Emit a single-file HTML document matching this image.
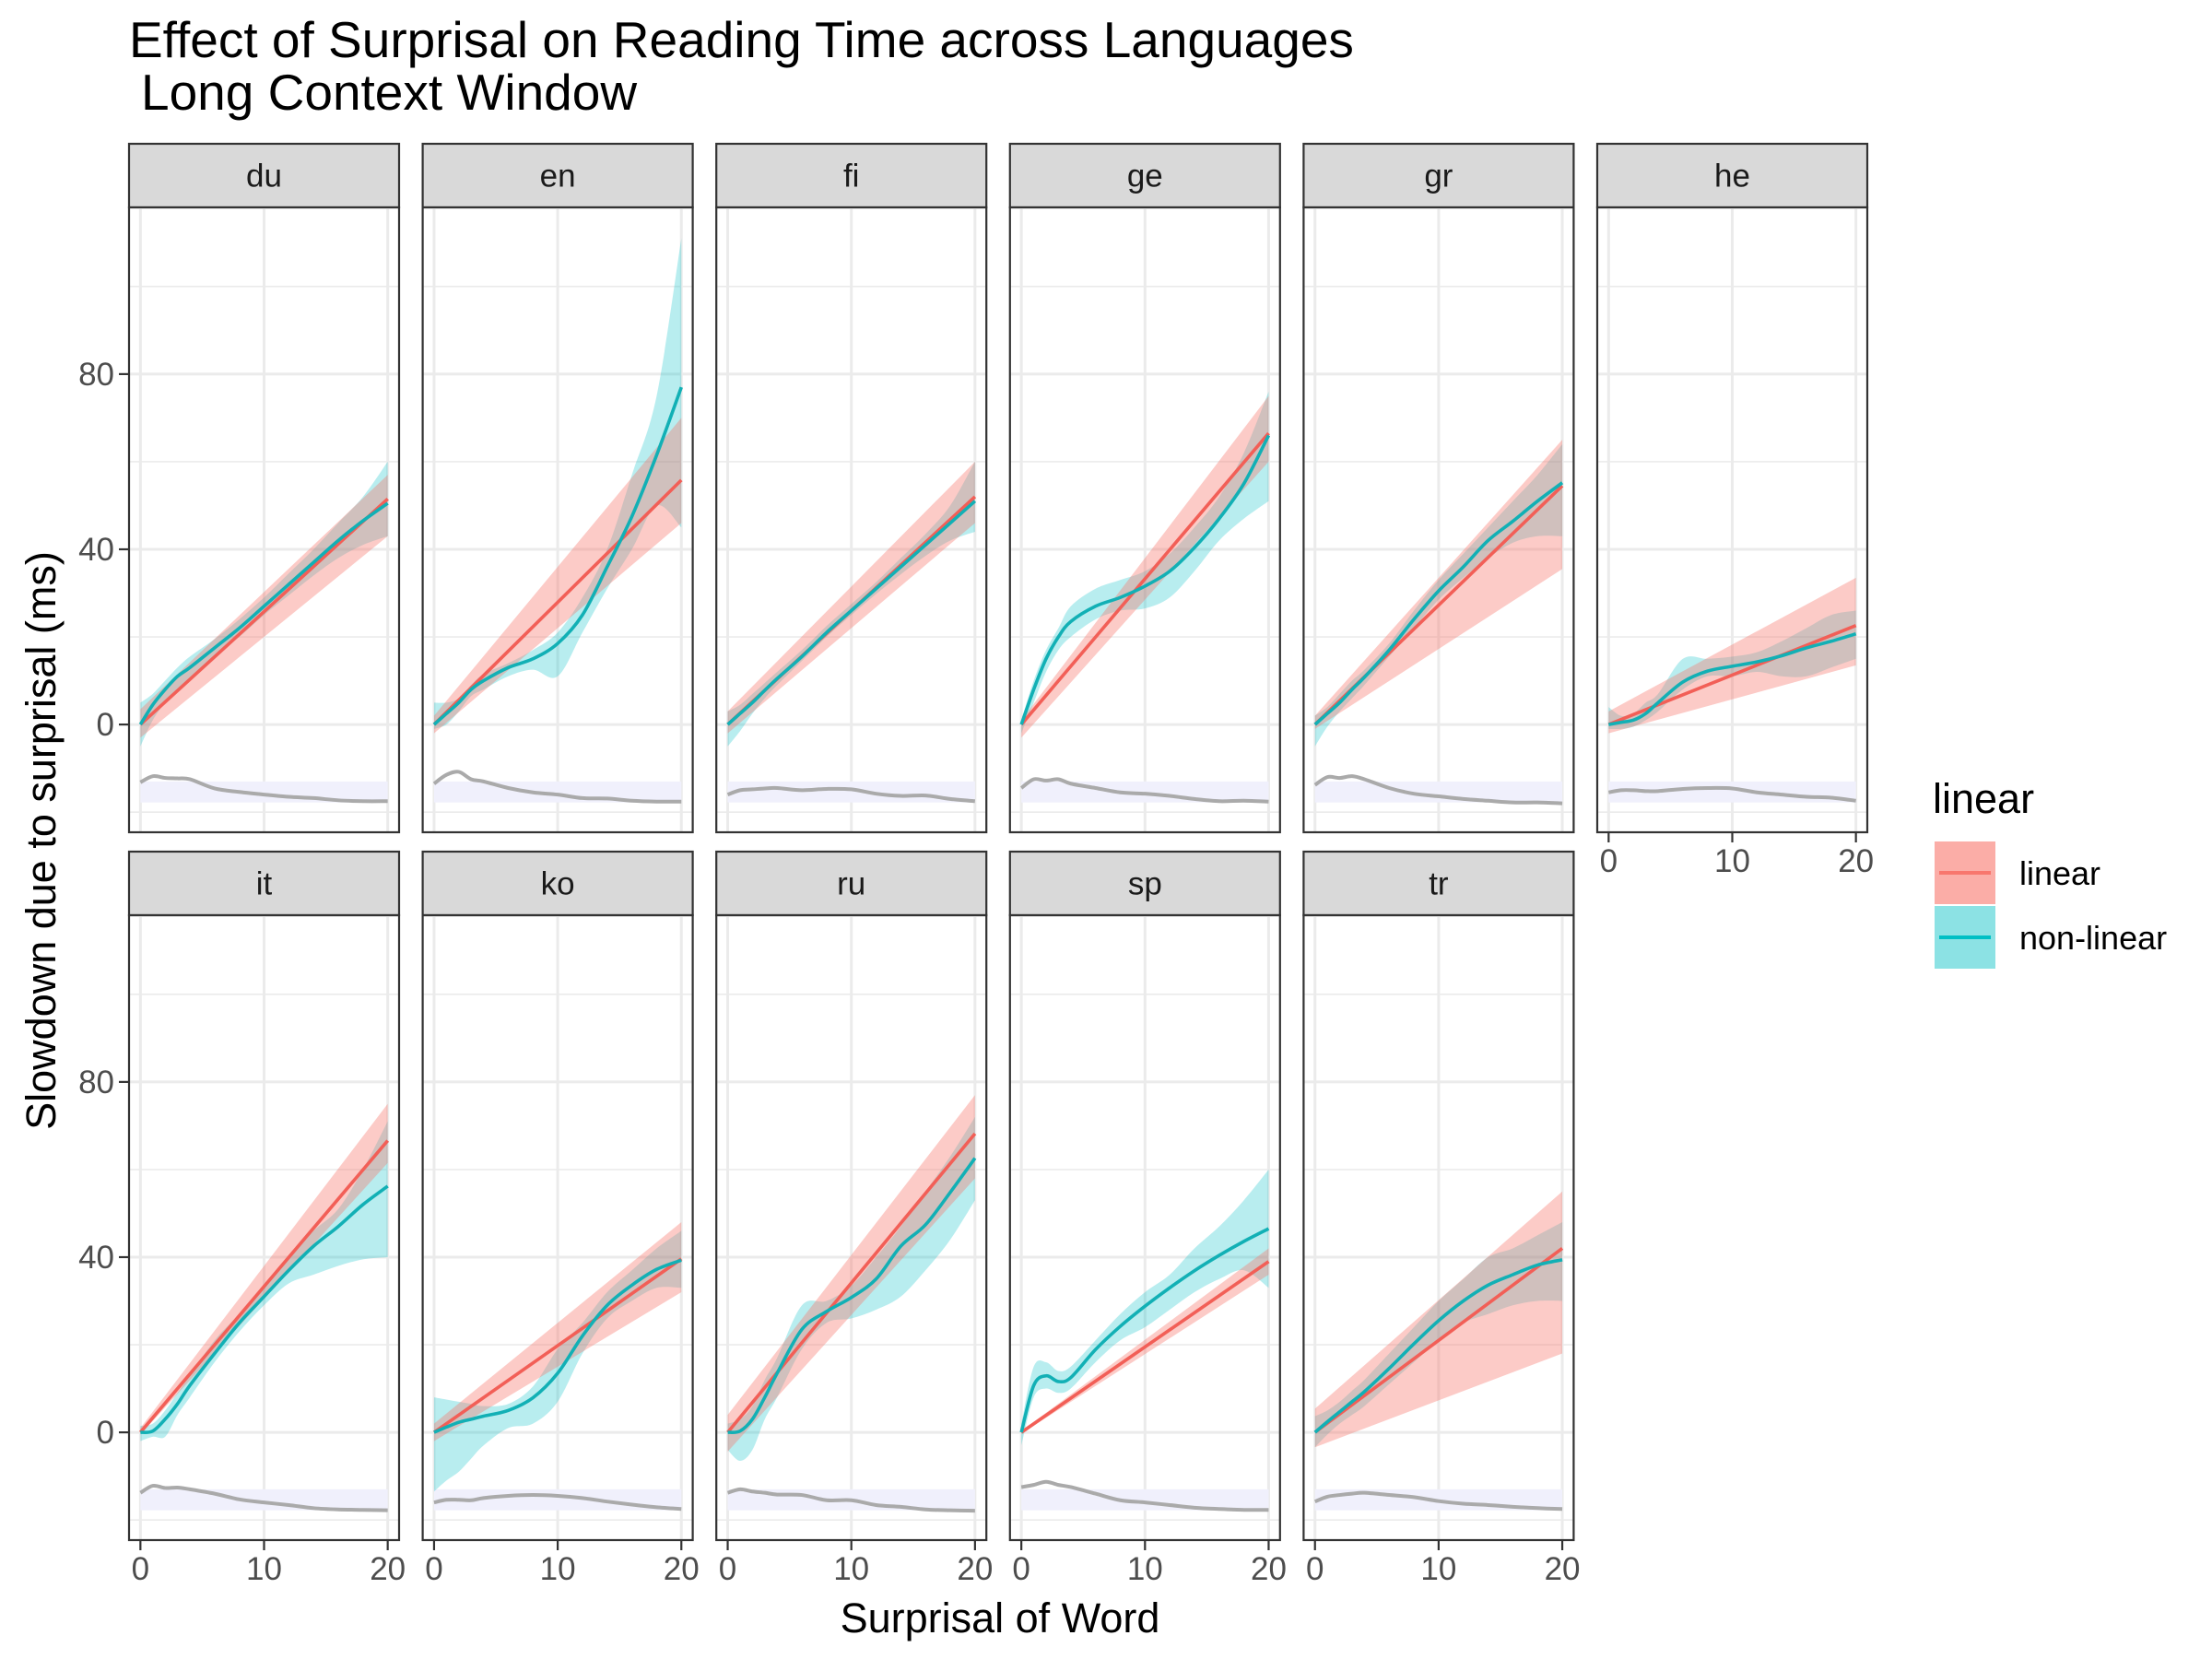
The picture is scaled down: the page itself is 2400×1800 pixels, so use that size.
<!DOCTYPE html>
<html><head><meta charset="utf-8"><title>Effect of Surprisal on Reading Time</title>
<style>html,body{margin:0;padding:0;background:#fff;}svg{display:block;font-family:"Liberation Sans",Arial,sans-serif;}</style>
</head><body>
<svg id="chart" xmlns="http://www.w3.org/2000/svg" width="2400" height="1800" viewBox="0 0 2400 1800">
<rect x="0" y="0" width="2400" height="1800" fill="#fff"/>
<text x="140" y="62" font-size="55" fill="#000">Effect of Surprisal on Reading Time across Languages</text>
<text x="153" y="119" font-size="55" fill="#000">Long Context Window</text>
<text transform="translate(60,912) rotate(-90)" text-anchor="middle" font-size="45" fill="#000">Slowdown due to surprisal (ms)</text>
<text x="1085" y="1771" text-anchor="middle" font-size="45" fill="#000">Surprisal of Word</text>
<g>
<text x="2097" y="882" font-size="45" fill="#000">linear</text>
<g>
<rect x="2099" y="913" width="66" height="68" fill="#F8766D" fill-opacity="0.6"/>
<line x1="2104" y1="947" x2="2160" y2="947" stroke="#F8766D" stroke-width="4"/>
<text x="2191" y="960" font-size="36" fill="#000">linear</text>
</g>
<g>
<rect x="2099" y="983" width="66" height="68" fill="#00BFC4" fill-opacity="0.45"/>
<line x1="2104" y1="1017" x2="2160" y2="1017" stroke="#00BFC4" stroke-width="4"/>
<text x="2191" y="1030" font-size="36" fill="#000">non-linear</text>
</g>
</g>
<g id="panels"></g>
</svg>
<script>
// ---- data ----
const langs = ['du','en','fi','ge','gr','he','it','ko','ru','sp','tr'];
const xs = [0,1,2,3,4,6,8,10,12,14,16,18,20];
const xTicks = [0,10,20];
const yTicks = [0,40,80];
const yMinor = [-20,20,60,100];
// linear fit: value at surprisal 20, ribbon at 0 and 20
const linEnd  = [51.5,55.8,52,66.5,54.5,22.6,66.6,39.6,68.2,39,42];
const linLo0  = [-3,-2,-2,-3,-1,-2,-0.5,-2,-4.4,-0.3,-3.4];
const linHi0  = [3.5,2,3,1,2,3,1,2,4,0.3,5.4];
const linLo20 = [43,46,46,60,35.5,13.5,61.5,32,58,36,18];
const linHi20 = [57,70,60,75,65,33.5,75,48,77,42,55];
// non-linear fit (sampled at xs)
const nlMean = {
 du:[0,4.5,8,11,13,17.5,22,27,32,37,42,46.5,50.5],
 en:[0,2.5,5,8,10,13,15,18.5,25,36,47.5,61.5,77],
 fi:[0,2.5,5,7.8,10.5,15.5,21,26,31,36,41,46,51],
 ge:[0,8,15,20,23.5,27,29,31.6,35,40.4,47,55,66],
 gr:[0,2.5,5,8,10.8,17,24,30.5,36,42,46.4,51,55.2],
 he:[0,0.5,1,2.5,5,9.7,12.2,13.3,14.3,15.7,17.5,19,20.7],
 it:[0,0.3,3,6.5,10.7,18,25,31,37,42.5,47,52,56.2],
 ko:[0,1.2,2.3,3,3.7,5,7.9,13.5,22,29,33.6,37.2,39.3],
 ru:[0,0.3,3,8,13.5,23.5,27.6,30.8,35,42.5,47.4,54.8,62.6],
 sp:[0,10.7,12.9,11.6,12.5,18.9,24.2,28.8,33,36.9,40.4,43.6,46.5],
 tr:[0,2.4,4.7,7,9.3,14.6,20.2,25.5,30,33.6,36,38.2,39.4]
};
const nlLo = {
 du:[-5,1,5,8,10.5,15.5,20,25,29.5,34,38,41,43],
 en:[-1,0,3,6.5,8,11,12.5,11,21,31,40,50,45],
 fi:[-5,-1.5,2.5,6,9,14.5,20,25,29.8,34.3,38.5,42,44],
 ge:[-2,5,12,17,20,24,26,26.5,29,35,42,47,51],
 gr:[-5,-0.5,3,6,9,15.5,22,28.5,33.5,38,41.5,43,43],
 he:[-1,-1,-0.5,1,3,8,11,11,12,11,11,13,15],
 it:[-2,-1,-1,4,8,16,23,29,34,36,38,39.5,40],
 ko:[-13.5,-11,-9,-6,-3,1,2,7,18,26,30,33,33],
 ru:[-4,-6.5,-4,3,8,19,25,26,28,31,37,44,53],
 sp:[-3,8,10,9,10,16,21,24,28,32,35,37,33],
 tr:[-3.4,-0.5,2,4,6,11,16,21,25,27,29,30,30]
};
const nlHi = {
 du:[5,7,10,13,15.5,19.5,24,29,34.5,40,46,52,60],
 en:[5,5,6,9,11.5,14,17,21,29,40,57,75,111],
 fi:[3,4.5,7,9.5,12,17,22.5,27.5,32.5,38,43.5,50,60],
 ge:[1,10,17,22,27,31,33,35,39,45,52,62,76],
 gr:[2,4,7,10,12.5,18.5,26,33,39,45,51,57,64],
 he:[4,2,2.5,5,7,15,15,15.5,16.5,19,22,25,26],
 it:[1.5,2,5,9,13,21,27,33,40,46,51,60,71],
 ko:[8,7.5,7,6.5,6,6.5,10.5,19,25,32,37,42,46],
 ru:[2,3,6,12,17,29,30,33.5,40,47,55,63,72],
 sp:[2,15,16,14,15,21,27,32,36,42,47,53,60],
 tr:[3.7,5,7,9.5,12,18,24,30,35,40,42,45,48]
};
// grey reference curve (sampled at xs)
const greyCurve = {
 du:[-13.2,-11.8,-12.2,-12.3,-12.5,-14.6,-15.4,-16,-16.5,-16.8,-17.3,-17.5,-17.5],
 en:[-13.5,-11.5,-10.8,-12.5,-13,-14.5,-15.5,-16,-16.8,-16.9,-17.4,-17.6,-17.6],
 fi:[-16,-15,-14.8,-14.6,-14.5,-15,-14.7,-14.8,-15.8,-16.3,-16.2,-17,-17.5],
 ge:[-14.5,-12.5,-12.8,-12.5,-13.5,-14.5,-15.5,-15.8,-16.3,-17,-17.5,-17.4,-17.6],
 gr:[-13.8,-12,-12.2,-11.8,-12.5,-14.5,-15.8,-16.4,-17,-17.4,-17.8,-17.8,-18],
 he:[-15.5,-15,-15,-15.2,-15.2,-14.7,-14.5,-14.6,-15.5,-16,-16.5,-16.7,-17.4],
 it:[-13.8,-12.2,-12.7,-12.6,-13,-14,-15.3,-16,-16.6,-17.3,-17.6,-17.7,-17.8],
 ko:[-16,-15.4,-15.4,-15.5,-15,-14.5,-14.3,-14.5,-15,-15.8,-16.5,-17.1,-17.5],
 ru:[-13.8,-13,-13.5,-13.8,-14.2,-14.3,-15.5,-15.5,-16.6,-17,-17.6,-17.8,-17.9],
 sp:[-12.5,-12,-11.3,-12,-12.5,-14,-15.5,-16,-16.6,-17.2,-17.5,-17.7,-17.7],
 tr:[-15.8,-14.7,-14.3,-14,-13.8,-14.3,-14.8,-15.7,-16.3,-16.6,-17,-17.3,-17.5]
};
const bandRange = [-13, -17.8];

// ---- layout ----
const NS = 'http://www.w3.org/2000/svg';
const P = {left0:140, pitch:318.6, w:293, top0:225, rowPitch:768, h:678, stripH:69};
const X = {min:-0.92, max:20.92};
const Y = {min:-24.6, max:118.06};
function mk(tag, attrs, parent){
  const el = document.createElementNS(NS, tag);
  for (const k in attrs) el.setAttribute(k, attrs[k]);
  if (parent) parent.appendChild(el);
  return el;
}
function smoothPath(pts, move){
  let d = (move ? 'M' : 'L') + pts[0][0].toFixed(2) + ',' + pts[0][1].toFixed(2);
  for (let i = 0; i < pts.length - 1; i++){
    const p0 = pts[Math.max(0,i-1)], p1 = pts[i], p2 = pts[i+1], p3 = pts[Math.min(pts.length-1,i+2)];
    const c1x = p1[0] + (p2[0]-p0[0])/6, c1y = p1[1] + (p2[1]-p0[1])/6;
    const c2x = p2[0] - (p3[0]-p1[0])/6, c2y = p2[1] - (p3[1]-p1[1])/6;
    d += 'C' + c1x.toFixed(2)+','+c1y.toFixed(2)+' '+c2x.toFixed(2)+','+c2y.toFixed(2)+' '+p2[0].toFixed(2)+','+p2[1].toFixed(2);
  }
  return d;
}
const root = document.getElementById('panels');
langs.forEach((lang, i) => {
  const col = i % 6, row = Math.floor(i / 6);
  const L = P.left0 + col * P.pitch;
  const T = P.top0 + row * P.rowPitch;
  const sx = v => L + (v - X.min) / (X.max - X.min) * P.w;
  const sy = v => T + (Y.max - v) / (Y.max - Y.min) * P.h;
  const g = mk('g', {}, root);
  
  
  const strip = mk('rect', {x:L, y:T-P.stripH, width:P.w, height:P.stripH, fill:'#d9d9d9', stroke:'#333', 'stroke-width':2.2}, g);
  
  
  const st = mk('text', {x:L+P.w/2, y:T-P.stripH/2+12, 'text-anchor':'middle', 'font-size':35, fill:'#1a1a1a'}, g);
  st.textContent = lang;
  
  
  const cp = mk('clipPath', {id:'clip-' + lang}, g);
  mk('rect', {x:L, y:T, width:P.w, height:P.h}, cp);
  const plot = mk('g', {'clip-path':'url(#clip-' + lang + ')'}, g);
  
  
  yMinor.forEach(v => {
    const ln = mk('line', {x1:L, x2:L+P.w, y1:sy(v), y2:sy(v), stroke:'#ebebeb', 'stroke-width':1.6}, plot);
    
    
  });
  yTicks.forEach(v => {
    const ln = mk('line', {x1:L, x2:L+P.w, y1:sy(v), y2:sy(v), stroke:'#ebebeb', 'stroke-width':3}, plot);
    
    
  });
  xTicks.forEach(v => {
    const ln = mk('line', {x1:sx(v), x2:sx(v), y1:T, y2:T+P.h, stroke:'#ebebeb', 'stroke-width':3}, plot);
    
    
  });
  const band = mk('rect', {x:sx(0), y:sy(bandRange[0]), width:sx(20)-sx(0), height:sy(bandRange[1])-sy(bandRange[0]), fill:'#f0f0fc'}, plot);
  
  
  const gp = xs.map((x, k) => [sx(x), sy(greyCurve[lang][k])]);
  const gc = mk('path', {d:smoothPath(gp, true), fill:'none', stroke:'#aaaaaa', 'stroke-width':4, 'stroke-linejoin':'round'}, plot);
  
  
  const up = xs.map((x, k) => [sx(x), sy(nlHi[lang][k])]);
  const lo = xs.map((x, k) => [sx(x), sy(nlLo[lang][k])]).reverse();
  const nr = mk('path', {d:smoothPath(up, true) + smoothPath(lo, false) + 'Z', fill:'#00BFC4', 'fill-opacity':0.28}, plot);
  
  
  const lr = mk('polygon', {points:[[sx(0),sy(linLo0[i])],[sx(20),sy(linLo20[i])],[sx(20),sy(linHi20[i])],[sx(0),sy(linHi0[i])]].map(p=>p.join(',')).join(' '), fill:'#F8766D', 'fill-opacity':0.38}, plot);
  
  
  const ll = mk('line', {x1:sx(0), y1:sy(0), x2:sx(20), y2:sy(linEnd[i]), stroke:'#F25F57', 'stroke-width':3.6}, plot);
  
  
  const mp = xs.map((x, k) => [sx(x), sy(nlMean[lang][k])]);
  const nl = mk('path', {d:smoothPath(mp, true), fill:'none', stroke:'#12B0B5', 'stroke-width':3.6}, plot);
  
  
  const bd = mk('rect', {x:L, y:T, width:P.w, height:P.h, fill:'none', stroke:'#333', 'stroke-width':2.2}, g);
  
  
  if (col === 0) {
    yTicks.forEach(v => {
      const tk = mk('line', {x1:L-11, x2:L, y1:sy(v), y2:sy(v), stroke:'#333', 'stroke-width':2.2}, g);
      
      
      const tl = mk('text', {x:L-16, y:sy(v)+12, 'text-anchor':'end', 'font-size':35, fill:'#4d4d4d'}, g);
      tl.textContent = String(v);
      
      
    });
  }
  const hasX = row === 1 || i === 5;
  if (hasX) {
    xTicks.forEach(v => {
      const tk = mk('line', {x1:sx(v), x2:sx(v), y1:T+P.h, y2:T+P.h+11, stroke:'#333', 'stroke-width':2.2}, g);
      
      
      const tl = mk('text', {x:sx(v), y:T+P.h+43, 'text-anchor':'middle', 'font-size':35, fill:'#4d4d4d'}, g);
      tl.textContent = String(v);
      
      
    });
  }
});
</script>
</body></html>
